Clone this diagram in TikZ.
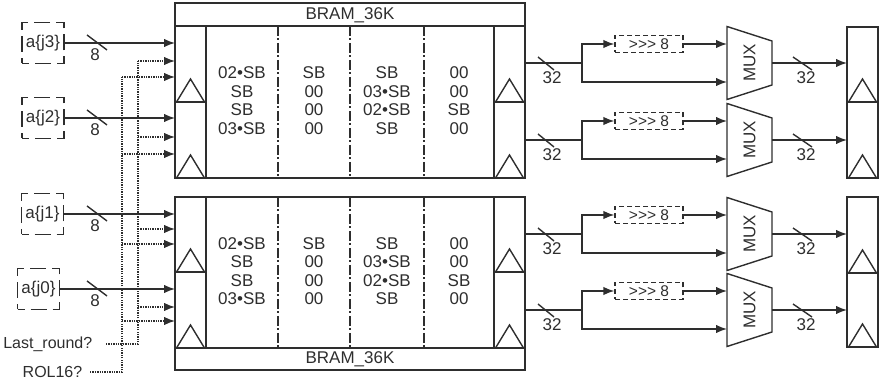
\documentclass[tikz,border=0pt]{standalone}
\usepackage{fontspec}
\setmainfont{Liberation Sans}
\usetikzlibrary{arrows.meta,calc}
\definecolor{ink}{gray}{0.18}
\newcommand\regtri[1]{\draw ($(#1.south west)+(1.5,0)$) -- ($(#1.south)+(0,-23)$) -- ($(#1.south east)+(-1.5,0)$);}
\begin{document}
\begin{tikzpicture}[x=1pt,y=-1pt,line width=1.4pt,color=ink,
  >={Latex[length=11pt,width=8.5pt]},
  lbl/.style={inner sep=0pt,font=\fontsize{17}{18.5}\selectfont},
  side/.style={inner sep=0pt,font=\fontsize{16}{18}\selectfont},
  blk/.style={draw,inner sep=0pt,outer sep=0pt,anchor=north west},
  reg/.style={blk,minimum width=31pt},
  inbox/.style={draw,dash pattern=on 14pt off 6pt on 16pt off 6pt,dash phase=7pt,
    minimum width=42pt,minimum height=41pt,inner sep=0pt,font=\fontsize{17}{18}\selectfont},
  shbox/.style={draw,dash pattern=on 5pt off 3pt,minimum width=68pt,minimum height=17pt,
    inner sep=0pt,font=\fontsize{15.5}{16}\selectfont},
  colsep/.style={dash pattern=on 10pt off 2.5pt on 2pt off 2.5pt},
  dot/.style={line width=1.3pt,dash pattern=on 1.3pt off 1.1pt},
]
\useasboundingbox (0,0) rectangle (879,382);

% ---------- top BRAM ----------
\node[blk,minimum width=350pt,minimum height=175pt] (B1) at (175,3) {};
\draw ($(B1.north west)+(0,23)$) -- ($(B1.north east)+(0,23)$);
\node[lbl] (T1) at (350,15) {BRAM\_36K};
\node[reg,minimum height=76pt] (L1) at (175,26) {};
\node[reg,minimum height=76pt] (L2) at (175,102) {};
\node[reg,minimum height=76pt] (M1) at (494,26) {};
\node[reg,minimum height=76pt] (M2) at (494,102) {};
\foreach \x in {278,350,424} \draw[colsep] (\x,26) -- (\x,178);
\node[lbl,align=center] (c11) at (242,100.5) {02•SB\\SB\\SB\\03•SB};
\node[lbl,align=center] (c12) at (314,100.5) {SB\\00\\00\\00};
\node[lbl,align=center] (c13) at (387,100.5) {SB\\03•SB\\02•SB\\SB};
\node[lbl,align=center] (c14) at (459,100.5) {00\\00\\SB\\00};

% ---------- bottom BRAM ----------
\node[blk,minimum width=350pt,minimum height=173pt] (B2) at (175,197) {};
\draw ($(B2.south west)+(0,-22)$) -- ($(B2.south east)+(0,-22)$);
\node[lbl] (T2) at (350,359) {BRAM\_36K};
\node[reg,minimum height=75pt] (L3) at (175,197) {};
\node[reg,minimum height=76pt] (L4) at (175,272) {};
\node[reg,minimum height=75pt] (M3) at (494,197) {};
\node[reg,minimum height=76pt] (M4) at (494,272) {};
\foreach \x in {278,350,424} \draw[colsep] (\x,197) -- (\x,348);
\node[lbl,align=center] (c21) at (242,271) {02•SB\\SB\\SB\\03•SB};
\node[lbl,align=center] (c22) at (314,271) {SB\\00\\00\\00};
\node[lbl,align=center] (c23) at (387,271) {SB\\03•SB\\02•SB\\SB};
\node[lbl,align=center] (c24) at (459,271) {00\\00\\SB\\00};

% output registers
\node[reg,minimum height=75pt] (O1) at (847,27) {};
\node[reg,minimum height=76pt] (O2) at (847,102) {};
\node[reg,minimum height=76pt] (O3) at (847,197) {};
\node[reg,minimum height=74pt] (O4) at (847,273) {};

\foreach \n in {L1,L2,L3,L4,M1,M2,M3,M4,O1,O2,O3,O4} {\regtri{\n}}

% ---------- inputs ----------
\node[inbox] (a3) at (43,43) {a\{j3\}};
\node[inbox] (a2) at (43,118) {a\{j2\}};
\node[inbox] (a1) at (42.5,214) {a\{j1\}};
\node[inbox] (a0) at (38.5,289) {a\{j0\}};
\foreach \a/\n in {a3/L1,a2/L2,a1/L3,a0/L4}{
  \draw[->] (\a.east) -- (\a.east -| \n.west);
}
\foreach \y in {43,118,214,289}{
  \draw (87,\y-8) -- (107,\y+7);
  \node[lbl] at (95,\y+12) {8};
}

% control signals
\node[side,anchor=east] (lr) at (93,344) {Last\_round?};
\node[side,anchor=east] (rol) at (83,372) {ROL16?};
\coordinate (v1t) at (138,61);
\coordinate (v1b) at (138,344);
\coordinate (v2t) at (122,77);
\coordinate (v2b) at (122,372);
\draw[dot] ($(lr.east)+(13,0)$) -- (v1b) -- (v1t);
\draw[dot] ($(rol.east)+(7,0)$) -- (v2b) -- (v2t);
\foreach \x/\y/\n in {138/61/L1,122/77/L1,138/137/L2,122/154/L2,138/229/L3,122/244/L3,138/307/L4,122/321/L4}{
  \coordinate (p) at (\x,\y);
  \draw[dot,->] (p) -- (p -| \n.west);
}

% ---------- right side ----------
\foreach \i/\Y in {1/63,2/140,3/234,4/310}{
  \coordinate (br\i) at (582,\Y);
  \coordinate (lo\i) at (727,\Y+19);
  \coordinate (ml\i) at (727,\Y);
  \coordinate (mr\i) at (772,\Y);
  \draw (br\i -| M\i.east) -- (br\i);
  \draw (538,\Y-6) -- (554,\Y+7);
  \node[lbl] at (552,\Y+15) {32};
  \node[shbox] (s\i) at (649,\Y-19) {>{}>{}> 8};
  \draw[->] (br\i) |- (s\i.west);
  \draw[->] (br\i) |- (lo\i);
  \draw[->] (s\i.east) -- (s\i.east -| ml\i);
  \draw (727,\Y-36.5) -- (772,\Y-22) -- (772,\Y+22) -- (727,\Y+36.5) -- cycle;
  \node[lbl,rotate=90] (mx\i) at (749.5,\Y) {MUX};
  \draw[->] (mr\i) -- (mr\i -| O\i.west);
  \draw (793,\Y-6) -- (812,\Y+7);
  \node[lbl] at (806,\Y+15) {32};
}
\end{tikzpicture}
\end{document}
